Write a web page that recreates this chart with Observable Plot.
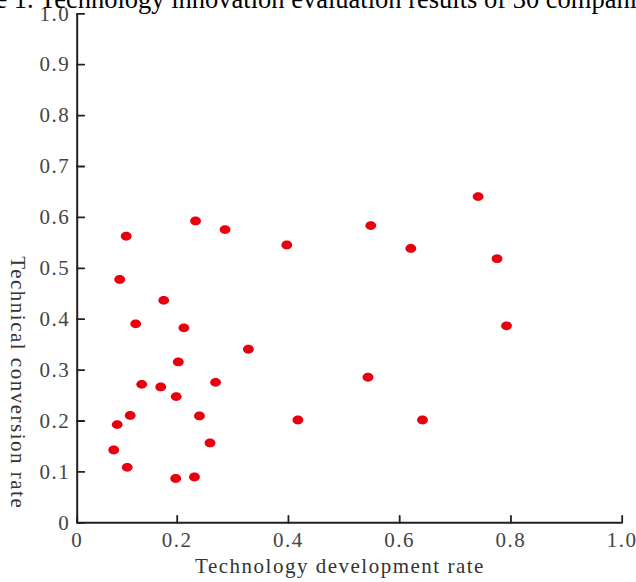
<!DOCTYPE html>
<html>
<head>
<meta charset="utf-8">
<script src="https://cdn.jsdelivr.net/npm/d3@7"></script>
<script src="https://cdn.jsdelivr.net/npm/@observablehq/plot@0.6"></script>
<style>
  html, body { margin: 0; padding: 0; background: #fff; overflow: hidden; }
  #wrap { position: relative; width: 636px; height: 582px; overflow: hidden; }
  #title { position: absolute; left: -62px; top: -13.7px; white-space: nowrap;
           font-family: "Liberation Serif", serif; font-size: 26.5px; line-height: 1; color: #000; }
  #chart { position: absolute; left: 0; top: 0; }
</style>
</head>
<body>
<div id="wrap">
  <div id="chart"></div>
  <div id="title">Figure 1. Technology innovation evaluation results of 30 companies</div>
</div>
<script>
// Technology development rate (x) and technical conversion rate (y) for 30 companies
const devRate = [0.098, 0.233, 0.286, 0.397, 0.085, 0.173, 0.117, 0.212, 0.328, 0.202,
                 0.129, 0.167, 0.198, 0.269, 0.106, 0.080, 0.240, 0.417, 0.259, 0.073,
                 0.100, 0.197, 0.231, 0.548, 0.741, 0.620, 0.775, 0.792, 0.543, 0.641];
const convRate = [0.563, 0.593, 0.576, 0.546, 0.478, 0.437, 0.391, 0.383, 0.341, 0.316,
                  0.272, 0.267, 0.248, 0.276, 0.211, 0.193, 0.210, 0.202, 0.157, 0.143,
                  0.109, 0.087, 0.090, 0.584, 0.641, 0.539, 0.519, 0.387, 0.286, 0.202];
const xTicks = [0, 0.2, 0.4, 0.6, 0.8, 1.0];
const xTickLabels = ["0", "0.2", "0.4", "0.6", "0.8", "1.0"];
const yTicks = [0, 0.1, 0.2, 0.3, 0.4, 0.5, 0.6, 0.7, 0.8, 0.9, 1.0];
const yTickLabels = ["0", "0.1", "0.2", "0.3", "0.4", "0.5", "0.6", "0.7", "0.8", "0.9", "1.0"];
const xTitle = "Technology development rate";
const yTitle = "Technical conversion rate";

const data = devRate.map((x, i) => ({x, y: convRate[i]}));

const tickShape = {draw(context, l) { context.moveTo(0, 0); context.lineTo(0, -l); }};
const ellipse = {draw(context) {
  const rx = 5.4, ry = 4.4, k = 0.5523;
  context.moveTo(rx, 0);
  context.bezierCurveTo(rx, ry * k, rx * k, ry, 0, ry);
  context.bezierCurveTo(-rx * k, ry, -rx, ry * k, -rx, 0);
  context.bezierCurveTo(-rx, -ry * k, -rx * k, -ry, 0, -ry);
  context.bezierCurveTo(rx * k, -ry, rx, -ry * k, rx, 0);
  context.closePath();
}};

const axisColor = "#231f20";
const plot = Plot.plot({
  width: 636,
  height: 582,
  marginLeft: 76.7,
  marginRight: 14.3,
  marginTop: 13.3,
  marginBottom: 59.7,
  style: {fontFamily: "'Liberation Serif', serif", fontSize: "21px", letterSpacing: "1.5px", color: "#444", background: "#fff"},
  x: {type: "linear", domain: [0, 0.2, 1], range: [76.7, 176.7, 621.7]},
  y: {domain: [0, 1]},
  marks: [
    Plot.axisX(xTicks, {tickSize: 0, tickPadding: 9, tickFormat: (d, i) => xTickLabels[i], label: null}),
    Plot.axisY(yTicks, {tickSize: 0, tickPadding: 7, tickFormat: (d, i) => yTickLabels[i], label: null}),
    Plot.vector(xTicks, {x: d => d, frameAnchor: "bottom", length: 7, anchor: "start", rotate: 0, shape: tickShape, stroke: axisColor, strokeWidth: 1.8}),
    Plot.vector(yTicks, {y: d => d, frameAnchor: "left", length: 7, anchor: "start", rotate: 90, shape: tickShape, stroke: axisColor, strokeWidth: 1.8}),
    Plot.ruleX([0], {stroke: axisColor, strokeWidth: 2}),
    Plot.ruleY([0], {stroke: axisColor, strokeWidth: 2}),
    Plot.dot(data, {x: "x", y: "y", symbol: ellipse, fill: "#e8000e", stroke: "none"}),
    Plot.text([xTitle], {text: d => d, frameAnchor: "bottom", dx: -9.7, dy: 43, lineAnchor: "middle", fill: "#333"}),
    Plot.text([yTitle], {text: d => d, frameAnchor: "left", dx: -59.7, dy: -12, rotate: 90, lineAnchor: "middle", fill: "#333"})
  ]
});
document.getElementById("chart").appendChild(plot);
</script>
</body>
</html>
